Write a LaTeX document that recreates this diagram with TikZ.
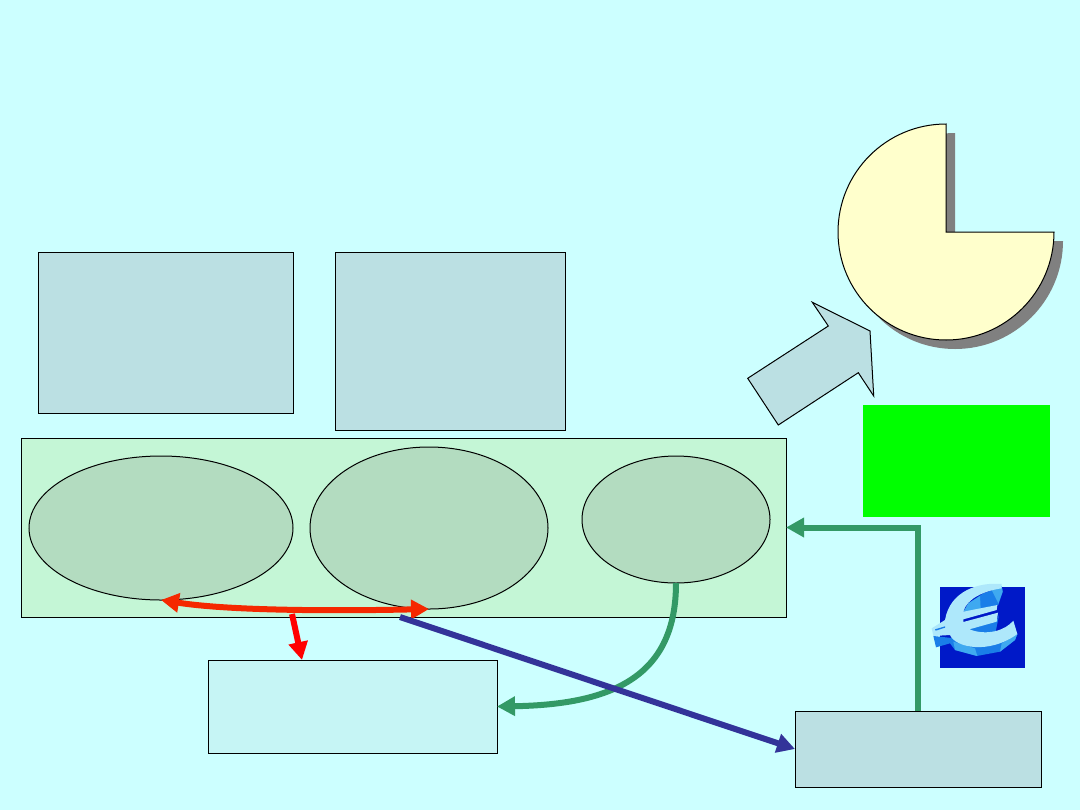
\documentclass[tikz,border=0pt]{standalone}
\usepackage{xcolor}
\usetikzlibrary{arrows.meta, calc, positioning, shapes.geometric}
\definecolor{page}{HTML}{CCFFFF}
\definecolor{steel}{HTML}{BBE0E3}
\definecolor{band}{HTML}{C4F6D6}
\definecolor{oval}{HTML}{B3DCC0}
\definecolor{pale}{HTML}{C6F5F5}
\definecolor{pie}{HTML}{FFFFCC}
\definecolor{flow}{HTML}{339966}
\definecolor{navy}{HTML}{333399}
\definecolor{fork}{HTML}{F52800}
\definecolor{coin}{HTML}{0019C8}
\definecolor{eurolight}{HTML}{AEE8FB}
\definecolor{euromid}{HTML}{1A7EE8}
\definecolor{euroedge}{HTML}{3FA9F0}

\begin{document}
\begin{tikzpicture}[
  x=0.75pt, y=-0.75pt,
  panel/.style   = {draw=black, line width=0.75pt, inner sep=0pt, outer sep=0pt},
  steelbox/.style = {panel, fill=steel},
  palebox/.style  = {panel, fill=pale},
  bandbox/.style  = {panel, fill=band},
  blob/.style     = {panel, ellipse, fill=oval},
  arr/.style      = {-{Triangle[length=13.5pt,width=14pt]}, line width=4.5pt},
  twoarr/.style   = {{Triangle[length=13.5pt,width=14pt]}-{Triangle[length=13.5pt,width=14pt]}, line width=4.5pt},
]
\useasboundingbox (0,0) rectangle (1080,810);
\fill[page] (0,0) rectangle (1080,810);

\node[steelbox, minimum width=191.25pt, minimum height=120.75pt] (costs) at (165.5,332.5) {};
\node[steelbox, minimum width=172.5pt, minimum height=133.5pt] (means) at (450,341) {};
\node[bandbox, minimum width=573.75pt, minimum height=134.25pt] (firm) at (403.5,527.5) {};
\node[blob, minimum width=198pt, minimum height=108pt] (ovalL) at (161,528) {};
\node[blob, minimum width=178.5pt, minimum height=121.5pt] (ovalM) at (429,528) {};
\node[blob, minimum width=141pt, minimum height=95.25pt] (ovalR) at (676,519.5) {};
\node[palebox, minimum width=216.75pt, minimum height=69.75pt] (lower) at (352.5,706.5) {};
\node[steelbox, minimum width=184.5pt, minimum height=57pt] (payer) at (918,749) {};
\node[fill=green, inner sep=0pt, minimum width=140.25pt, minimum height=84pt] (tag) at (956.5,461) {};
\node[fill=coin, inner sep=0pt, minimum width=63.75pt, minimum height=60.75pt] (euro) at (982.5,627.5) {};

% pie with its shadow
\fill[black!50] (955,133) arc[start angle=90, end angle=360, radius=81pt] -- (955,241) -- cycle;
\draw[fill=pie, line width=0.75pt] (946,124) arc[start angle=90, end angle=360, radius=81pt] -- (946,232) -- cycle;

% block arrow up to the pie
\draw[fill=steel, line width=0.75pt] (747.7,378.3) -- (828.3,326) -- (812.3,302.3) -- (870,331)
  -- (873.7,396) -- (858.3,372.7) -- (778.3,425) -- cycle;

% euro sign
\begin{scope}[shift={(900,560)}, x=0.25pt, y=-0.25pt]
  \fill[euromid] (100,228) -- (108,262) -- (150,250) -- (165,270) -- (230,288) -- (300,275)
    -- (345,240) -- (352,222) -- (300,240) -- (165,235) -- cycle;
  \fill[euroedge] (300,275) -- (345,240) -- (352,222) -- (305,250) -- cycle;
  \fill[euroedge] (165,270) -- (232,288) -- (225,265) -- (160,245) -- cycle;
  \fill[euromid] (190,160) -- (205,130) -- (250,100) -- (305,80) -- (308,95) -- (295,135) -- cycle;
  \fill[euroedge] (190,155) -- (205,130) -- (240,108) -- (242,148) -- cycle;
  \fill[euroedge] (275,90) -- (305,78) -- (308,95) -- (295,130) -- cycle;
  \fill[euromid] (205,208) -- (290,182) -- (297,165) -- (287,215) -- (245,225) -- cycle;
  \fill[eurolight] (305,72) .. controls (240,66) and (150,90) .. (135,180) -- (95,205)
    -- (100,228) -- (150,225) .. controls (165,262) and (265,285) .. (352,222)
    -- (340,182) .. controls (315,212) and (260,228) .. (208,208) -- (290,185) -- (294,158)
    -- (190,186) -- (190,178) -- (290,150) -- (292,135) -- (190,155)
    .. controls (200,115) and (255,92) .. (305,85) -- cycle;
  \fill[euromid] (105,208) -- (135,199) -- (135,203) -- (107,212) -- cycle;
\end{scope}

\coordinate (redfork) at (292,614);
\coordinate (redend) at (302,660);
\coordinate (navystart) at (400,617);

\draw[twoarr, color=fork] (ovalL.south) .. controls +(70,11) and +(-90,2) .. (ovalM.south);
\draw[arr, color=red] (redfork) -- (redend);
\draw[arr, color=flow] (ovalR.south) .. controls +(0,92) and +(118,-2) .. (lower.east);
\draw[arr, color=flow] (payer.north) |- (firm.east);
\draw[arr, color=navy] (navystart) -- (payer.west);
\end{tikzpicture}
\end{document}
